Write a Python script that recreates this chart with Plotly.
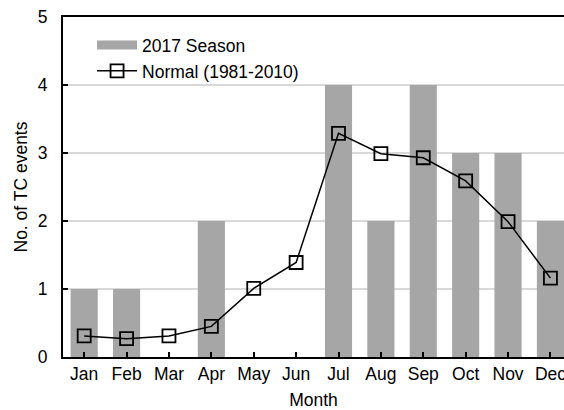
import plotly.graph_objects as go

months = ["Jan", "Feb", "Mar", "Apr", "May", "Jun", "Jul", "Aug", "Sep", "Oct", "Nov", "Dec"]
season_2017 = [1, 1, 0, 2, 0, 0, 4, 2, 4, 3, 3, 2]
normal_1981_2010 = [0.31, 0.27, 0.31, 0.45, 1.01, 1.39, 3.29, 2.99, 2.93, 2.59, 1.99, 1.16]
y_ticks = [0, 1, 2, 3, 4, 5]

FONT = "Liberation Sans, Arial, sans-serif"
FS = 17.5
BAR_COLOR = "#a6a6a6"

fig = go.Figure()
fig.add_trace(go.Bar(
    x=list(range(len(months))), y=season_2017, name="2017 Season",
    marker=dict(color=BAR_COLOR, line=dict(width=0)),
    showlegend=False, legendgroup="season",
))
# legend-only entry so the swatch is a wide grey band as in the reference
fig.add_trace(go.Scatter(
    x=[None], y=[None], name="2017 Season", mode="lines",
    line=dict(color=BAR_COLOR, width=9), legendgroup="season",
))
fig.add_trace(go.Scatter(
    x=list(range(len(months))), y=normal_1981_2010, name="Normal (1981-2010)",
    mode="lines+markers", cliponaxis=False,
    line=dict(color="black", width=1.5),
    marker=dict(symbol="square-open", size=13, color="black", line=dict(width=1.8, color="black")),
))

fig.update_layout(
    width=564, height=410,
    margin=dict(l=63, r=0, t=17, b=53, autoexpand=False),
    paper_bgcolor="white", plot_bgcolor="white",
    bargap=0.36,
    font=dict(family=FONT, size=FS, color="black"),
    showlegend=True,
    legend=dict(
        x=0.058, y=0.97, xanchor="left", yanchor="top",
        bgcolor="rgba(0,0,0,0)", font=dict(size=FS, family=FONT),
        tracegroupgap=0, itemwidth=40,
    ),
)
fig.update_xaxes(
    tickmode="array", tickvals=list(range(len(months))), ticktext=months,
    range=[-0.5, 11.32], automargin=False, ticklabeloverflow="allow",
    showline=True, linecolor="black", linewidth=2, mirror=True,
    ticks="inside", tickson="boundaries", ticklen=5, tickwidth=2, tickcolor="black",
    showgrid=False, zeroline=False,
    title=dict(text="Month", font=dict(size=FS, family=FONT), standoff=15),
    tickfont=dict(size=FS, family=FONT),
)
fig.update_yaxes(
    range=[0, 5], tickvals=y_ticks, automargin=False,
    showline=True, linecolor="black", linewidth=2,
    ticks="inside", ticklen=5, tickwidth=2, tickcolor="black",
    showgrid=True, gridcolor="#d9d9d9", gridwidth=1.5, zeroline=False,
    ticklabelstandoff=10,
    title=dict(text="No. of TC events", font=dict(size=FS, family=FONT), standoff=6),
    tickfont=dict(size=FS, family=FONT),
)

fig.write_html("out.html", config={"displayModeBar": False},
               post_script="document.body.style.margin='0';")
